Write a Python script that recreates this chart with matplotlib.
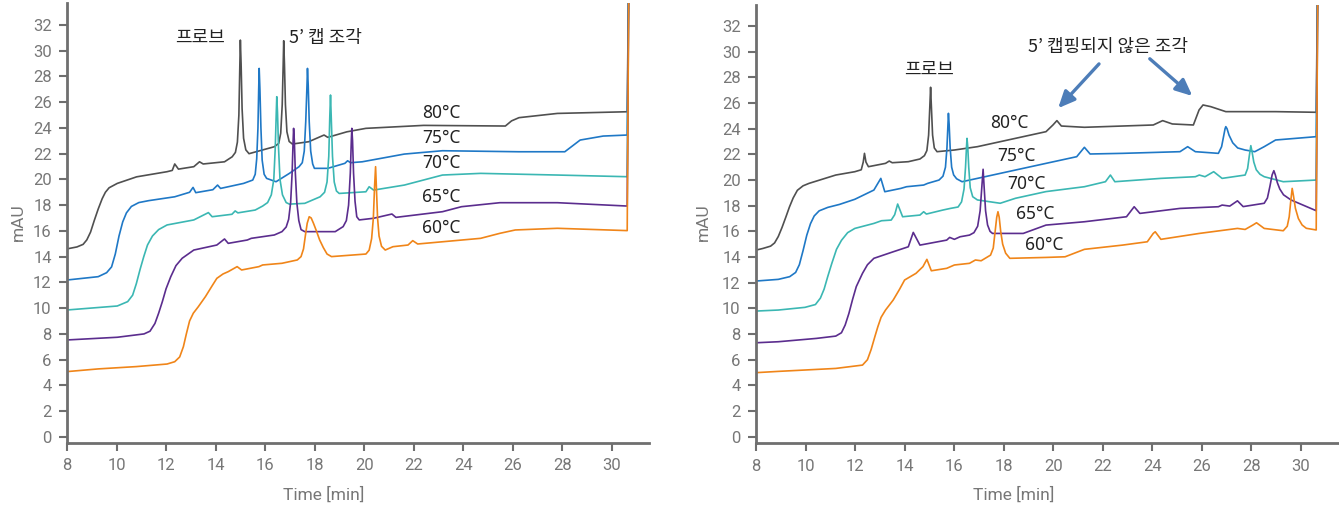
import matplotlib
matplotlib.use("Agg")
import matplotlib.pyplot as plt

plt.rcParams['font.family'] = ['Roboto', 'Noto Sans CJK KR', 'DejaVu Sans']

# ---- left panel: time [min] / mAU knots ----
left_80_t = [8.0, 8.4, 8.65, 8.8, 8.95, 9.1, 9.26, 9.42, 9.55, 9.7, 10.03, 10.81, 12.04, 12.25, 12.35, 12.5,
             13.12, 13.35, 13.5, 14.36, 14.67, 14.8, 14.88, 14.94, 14.98, 15.0, 15.03, 15.07, 15.13, 15.22,
             15.35, 16.37, 16.55, 16.63, 16.69, 16.73, 16.75, 16.78, 16.82, 16.88, 16.97, 17.1, 17.76,
             18.38, 18.53, 19.3, 20.07, 22.4, 25.7, 25.95, 26.25, 27.8, 30.62, 30.7]
left_80_mau = [14.6, 14.75, 14.95, 15.3, 15.9, 16.8, 17.7, 18.5, 19.0, 19.35, 19.69, 20.2, 20.6, 20.7, 21.2,
               20.8, 20.99, 21.37, 21.2, 21.37, 21.76, 22.1, 22.9, 25.0, 29.0, 30.83, 29.0, 25.5, 23.2, 22.3,
               22.0, 22.54, 22.8, 23.6, 25.8, 29.0, 30.78, 29.0, 25.8, 23.7, 22.95, 22.75, 22.93,
               23.45, 23.27, 23.7, 23.97, 24.2, 24.15, 24.55, 24.8, 25.13, 25.26, 40]

left_75_t = [8.0, 9.26, 9.6, 9.8, 9.95, 10.1, 10.25, 10.4, 10.6, 10.9, 11.3, 12.35, 12.95, 13.09, 13.2,
             13.89, 14.08, 14.2, 15.13, 15.5, 15.6, 15.66, 15.71, 15.74, 15.76, 15.79, 15.83, 15.88, 15.96,
             16.06, 16.44, 16.98, 17.37, 17.5, 17.58, 17.64, 17.69, 17.71, 17.74, 17.78, 17.84, 17.92,
             17.99, 18.53, 19.22, 19.33, 19.45, 19.92, 21.62, 23.16, 26.25, 28.1, 28.72, 29.65, 30.62, 30.7]
left_75_mau = [12.18, 12.44, 12.75, 13.2, 14.2, 15.6, 16.7, 17.4, 17.9, 18.2, 18.35, 18.65, 19.0, 19.38,
               18.97, 19.2, 19.56, 19.3, 19.69, 19.95, 20.4, 21.6, 24.0, 27.0, 28.63, 27.0, 24.0, 21.5,
               20.4, 20.08, 19.82, 20.47, 20.99, 21.3, 22.2, 24.5, 27.3, 28.63, 27.3, 24.5, 22.2, 21.2,
               20.86, 20.86, 21.25, 21.45, 21.3, 21.37, 21.97, 22.23, 22.15, 22.15, 23.06, 23.37, 23.45, 40]

left_70_t = [8.0, 10.03, 10.45, 10.65, 10.8, 10.95, 11.1, 11.25, 11.45, 11.7, 12.04, 13.12, 13.71, 13.86,
             14.66, 14.79, 14.9, 15.6, 15.9, 16.1, 16.25, 16.35, 16.41, 16.45, 16.47, 16.5, 16.54, 16.6,
             16.7, 16.85, 16.98, 17.6, 18.22, 18.4, 18.5, 18.57, 18.61, 18.64, 18.67, 18.72, 18.79, 18.88,
             18.99, 20.07, 20.2, 20.38, 21.62, 23.16, 24.7, 27.8, 30.62, 30.7]
left_70_mau = [9.85, 10.16, 10.5, 11.0, 11.9, 13.0, 14.0, 14.9, 15.6, 16.1, 16.46, 16.85, 17.42, 17.1,
               17.29, 17.55, 17.4, 17.62, 17.93, 18.2, 18.8, 20.0, 22.5, 25.2, 26.43, 25.2, 22.5, 20.0,
               18.8, 18.2, 18.08, 18.14, 18.65, 19.0, 19.8, 21.8, 24.8, 26.56, 24.8, 21.8, 19.8, 19.1,
               18.91, 19.04, 19.43, 19.17, 19.56, 20.34, 20.47, 20.34, 20.21, 40]

left_65_t = [8.0, 10.03, 11.11, 11.35, 11.55, 11.7, 11.85, 12.0, 12.19, 12.4, 12.65, 13.12, 14.05, 14.36,
             14.51, 15.28, 15.44, 16.37, 16.68, 16.85, 16.95, 17.03, 17.09, 17.13, 17.15, 17.18, 17.22,
             17.28, 17.36, 17.45, 17.6, 18.83, 19.15, 19.28, 19.37, 19.44, 19.48, 19.5, 19.53, 19.57,
             19.63, 19.7, 19.8, 20.38, 21.12, 21.28, 23.16, 23.93, 25.48, 27.8, 30.62, 30.7]
left_65_mau = [7.52, 7.73, 7.99, 8.2, 8.8, 9.6, 10.5, 11.5, 12.44, 13.3, 13.87, 14.51, 14.9, 15.37,
               15.03, 15.29, 15.42, 15.68, 15.94, 16.3, 16.9, 18.2, 20.5, 23.0, 23.97, 23.0, 20.5,
               18.2, 16.8, 16.1, 15.94, 15.94, 16.33, 16.8, 18.0, 20.5, 23.0, 23.97, 23.0, 20.5,
               18.3, 17.1, 16.85, 16.98, 17.31, 17.05, 17.49, 17.88, 18.19, 18.19, 17.93, 40]

left_60_t = [8.0, 9.26, 10.8, 12.04, 12.35, 12.55, 12.7, 12.82, 12.95, 13.1, 13.3, 13.59, 13.85, 14.05,
             14.3, 14.51, 14.87, 15.05, 15.75, 15.9, 16.68, 17.3, 17.45, 17.55, 17.63, 17.7, 17.78, 17.86,
             17.95, 18.07, 18.2, 18.35, 18.5, 18.68, 20.07, 20.2, 20.3, 20.37, 20.42, 20.46, 20.49, 20.54,
             20.6, 20.7, 20.85, 21.16, 21.77, 21.96, 22.16, 24.7, 25.48, 26.1, 27.8, 30.62, 30.7]
left_60_mau = [5.06, 5.27, 5.45, 5.65, 5.83, 6.2, 7.0, 8.0, 9.0, 9.6, 10.1, 10.89, 11.7, 12.31,
               12.65, 12.83, 13.22, 12.96, 13.22, 13.35, 13.48, 13.74, 14.0, 14.6, 15.7, 16.6, 17.1, 17.0,
               16.6, 16.0, 15.3, 14.7, 14.2, 14.0, 14.2, 14.5, 15.4, 17.0, 19.5, 20.99, 19.5, 17.0,
               15.6, 14.8, 14.51, 14.77, 14.9, 15.24, 14.98, 15.42, 15.81, 16.07, 16.2, 16.02, 40]

# ---- right panel ----
right_80_t = [8.0, 8.28, 8.59, 8.75, 8.9, 9.05, 9.21, 9.35, 9.5, 9.67, 9.9, 10.14, 11.22, 11.99, 12.25,
              12.33, 12.38, 12.44, 12.54, 13.23, 13.38, 13.5, 14.15, 14.62, 14.8, 14.9, 14.97, 15.02, 15.05,
              15.08, 15.13, 15.2, 15.31, 16.01, 16.94, 18.17, 19.71, 19.99, 20.15, 20.33, 21.26, 24.04,
              24.42, 24.81, 25.66, 25.89, 26.05, 26.36, 26.97, 28.98, 30.62, 30.7]
right_80_mau = [14.54, 14.67, 14.85, 15.1, 15.6, 16.3, 17.14, 17.9, 18.6, 19.2, 19.55, 19.74, 20.39, 20.65,
                20.8, 21.4, 22.08, 21.4, 21.04, 21.3, 21.48, 21.35, 21.43, 21.64, 21.9, 22.3, 23.5, 25.8,
                27.23, 25.8, 23.5, 22.5, 22.21, 22.34, 22.6, 23.12, 23.77, 24.29, 24.63, 24.21, 24.11, 24.29,
                24.63, 24.37, 24.29, 25.46, 25.85, 25.72, 25.33, 25.33, 25.28, 40]

right_75_t = [8.0, 8.9, 9.36, 9.6, 9.75, 9.9, 10.05, 10.2, 10.35, 10.55, 10.9, 11.37, 11.99, 12.76, 13.04,
              13.2, 13.85, 14.08, 14.77, 14.93, 15.39, 15.55, 15.65, 15.71, 15.75, 15.77, 15.8, 15.84, 15.9,
              15.98, 16.1, 16.32, 16.94, 18.17, 19.71, 20.95, 21.26, 21.49, 22.8, 25.12, 25.43, 25.74,
              26.67, 26.8, 26.88, 26.94, 26.97, 27.02, 27.1, 27.25, 27.45, 27.75, 28.14, 28.52, 28.98,
              30.62, 30.7]
right_75_mau = [12.13, 12.26, 12.47, 12.8, 13.4, 14.5, 15.7, 16.6, 17.2, 17.6, 17.87, 18.1, 18.5, 19.22,
                20.13, 19.09, 19.35, 19.48, 19.61, 19.74, 20.0, 20.3, 21.0, 22.5, 24.3, 25.2, 24.3, 22.5,
                21.0, 20.4, 20.1, 19.87, 20.13, 20.65, 21.3, 21.82, 22.55, 22.03, 22.08, 22.21, 22.6, 22.21,
                22.08, 22.6, 23.4, 24.0, 24.16, 24.0, 23.5, 22.9, 22.5, 22.34, 22.21, 22.6, 23.12,
                23.38, 40]

right_70_t = [8.0, 8.9, 9.98, 10.4, 10.6, 10.75, 10.9, 11.06, 11.25, 11.45, 11.7, 11.99, 12.76, 13.07,
              13.46, 13.6, 13.72, 13.92, 14.62, 14.77, 14.88, 15.54, 15.85, 16.16, 16.3, 16.4, 16.46, 16.5,
              16.52, 16.55, 16.59, 16.65, 16.75, 16.94, 17.86, 18.48, 19.71, 21.26, 22.11, 22.31, 22.49,
              24.35, 25.74, 25.9, 26.13, 26.48, 26.82, 27.75, 27.85, 27.92, 27.98, 28.03, 28.1, 28.2,
              28.35, 28.52, 29.29, 30.62, 30.7]
right_70_mau = [9.79, 9.87, 10.08, 10.3, 10.8, 11.5, 12.5, 13.5, 14.6, 15.3, 15.9, 16.23, 16.62, 16.83,
                16.88, 17.3, 18.13, 17.14, 17.27, 17.53, 17.35, 17.66, 17.79, 17.9, 18.3, 19.3, 21.0, 22.6,
                23.25, 22.6, 21.0, 19.4, 18.7, 18.45, 18.19, 18.58, 19.1, 19.48, 19.87, 20.39, 19.87,
                20.13, 20.26, 20.39, 20.26, 20.65, 20.13, 20.39, 20.9, 21.9, 22.68, 22.2, 21.4, 20.8,
                20.45, 20.26, 19.87, 20.0, 40]

right_65_t = [8.0, 8.9, 10.44, 11.22, 11.45, 11.6, 11.75, 11.9, 12.05, 12.3, 12.5, 12.76, 13.54, 14.15,
              14.35, 14.62, 15.7, 15.82, 16.01, 16.24, 16.62, 16.8, 16.95, 17.05, 17.12, 17.17, 17.21,
              17.27, 17.35, 17.45, 17.55, 18.79, 19.71, 21.26, 22.96, 23.27, 23.5, 25.12, 26.67, 26.82,
              27.13, 27.44, 27.67, 28.52, 28.65, 28.75, 28.84, 28.91, 28.97, 29.05, 29.15, 29.3, 29.6,
              30.62, 30.7]
right_65_mau = [7.32, 7.4, 7.66, 7.84, 8.1, 8.7, 9.6, 10.7, 11.7, 12.73, 13.4, 13.9, 14.41, 14.8,
                15.92, 14.93, 15.32, 15.53, 15.38, 15.58, 15.71, 15.9, 16.4, 17.6, 19.5, 20.84, 19.5,
                17.6, 16.5, 16.0, 15.84, 15.84, 16.49, 16.75, 17.14, 17.92, 17.4, 17.79, 17.92, 18.05,
                17.97, 18.38, 17.93, 18.19, 18.6, 19.5, 20.4, 20.73, 20.4, 19.8, 19.3, 18.85, 18.45,
                17.61, 40]

right_60_t = [8.0, 8.9, 11.22, 12.3, 12.5, 12.65, 12.8, 12.92, 13.05, 13.23, 13.54, 13.8, 14.0, 14.46,
              14.74, 14.9, 15.08, 15.7, 16.01, 16.62, 16.86, 17.09, 17.47, 17.58, 17.65, 17.72, 17.77,
              17.82, 17.88, 17.96, 18.08, 18.25, 19.71, 20.48, 21.26, 22.8, 23.8, 24.04, 24.12, 24.35,
              25.9, 27.44, 27.75, 28.06, 28.21, 28.52, 29.29, 29.45, 29.53, 29.6, 29.65, 29.7, 29.78,
              29.9, 30.05, 30.22, 30.62, 30.7]
right_60_mau = [4.99, 5.09, 5.32, 5.58, 6.0, 6.8, 7.8, 8.57, 9.3, 9.87, 10.65, 11.5, 12.21, 12.73,
                13.25, 13.82, 12.93, 13.12, 13.38, 13.51, 13.77, 13.71, 14.15, 14.7, 15.9, 17.1, 17.53,
                17.1, 16.0, 15.0, 14.3, 13.9, 13.97, 14.02, 14.6, 14.93, 15.19, 15.84, 15.97, 15.38,
                15.84, 16.23, 16.15, 16.49, 16.67, 16.23, 16.05, 16.4, 17.14, 18.5, 19.35, 18.8, 17.8,
                17.0, 16.5, 16.24, 16.11, 40]

temps = ['80°C', '75°C', '70°C', '65°C', '60°C']
colors = ['#505050', '#1f78c6', '#3bb7b3', '#5b2d8e', '#f08519']

left_series = [(left_80_t, left_80_mau), (left_75_t, left_75_mau), (left_70_t, left_70_mau),
               (left_65_t, left_65_mau), (left_60_t, left_60_mau)]
right_series = [(right_80_t, right_80_mau), (right_75_t, right_75_mau), (right_70_t, right_70_mau),
                (right_65_t, right_65_mau), (right_60_t, right_60_mau)]

# label positions (time, mAU)
left_label_pos = [(23.12, 25.13), (23.12, 23.19), (23.12, 21.25), (23.12, 18.65), (23.12, 16.2)]
right_label_pos = [(18.21, 24.48), (18.52, 21.89), (18.92, 19.69), (19.26, 17.35), (19.62, 14.9)]

axis_gray = '#6f6f6f'
tick_gray = '#777777'

fig = plt.figure(figsize=(13.39, 5.08), dpi=100)
ax1 = fig.add_axes([67 / 1339, 1 - 442.7 / 508, 582 / 1339, 439.4 / 508])
ax2 = fig.add_axes([756 / 1339, 1 - 443.3 / 508, 582 / 1339, 438.3 / 508])


def style_axis(ax, ylim):
    ax.set_xlim(8, 31.5)
    ax.set_ylim(*ylim)
    ax.set_xticks(range(8, 31, 2))
    ax.set_yticks(range(0, 33, 2))
    for s in ['top', 'right']:
        ax.spines[s].set_visible(False)
    for s in ['left', 'bottom']:
        ax.spines[s].set_color(axis_gray)
        ax.spines[s].set_linewidth(2)
    ax.tick_params(direction='out', length=6, width=1.5, color=axis_gray,
                   labelcolor=tick_gray, labelsize=12, pad=5)
    for lab in ax.get_xticklabels() + ax.get_yticklabels():
        lab.set_family('Roboto')


for ax, series, lpos in [(ax1, left_series, left_label_pos), (ax2, right_series, right_label_pos)]:
    for (t, v), c in zip(series, colors):
        ax.plot(t, v, color=c, lw=1.2, solid_joinstyle='round')
    for (x, y), txt in zip(lpos, temps):
        ax.text(x, y, txt, ha='center', va='center', fontsize=12.5, color='#222222',
                family=['Noto Sans', 'DejaVu Sans'])

style_axis(ax1, (-0.466, 33.69))
style_axis(ax2, (-0.514, 33.64))

kfont = ['Noto Sans CJK KR', 'DejaVu Sans']
ax1.text(13.37, 31.0, '프로브', ha='center', va='center', fontsize=13, color='#222222', family=kfont)
ax1.text(18.42, 31.0, '5’ 캡 조각', ha='center', va='center', fontsize=13, color='#222222', family=kfont)
ax2.text(14.99, 28.57, '프로브', ha='center', va='center', fontsize=13, color='#222222', family=kfont)
ax2.text(22.22, 30.39, '5’ 캡핑되지 않은 조각', ha='center', va='center', fontsize=13, color='#222222',
         family=kfont)

arrow_col = '#4d7db8'
arrow_style = '-|>,head_length=1.0,head_width=0.45'
ax2.annotate('', xy=(20.2, 25.6), xytext=(21.85, 29.05),
             arrowprops=dict(arrowstyle=arrow_style, color=arrow_col, lw=2.4, shrinkA=0, shrinkB=0))
ax2.annotate('', xy=(25.62, 26.55), xytext=(23.9, 29.45),
             arrowprops=dict(arrowstyle=arrow_style, color=arrow_col, lw=2.4, shrinkA=0, shrinkB=0))

for x in [18, 703]:
    fig.text(x / 1339, 1 - 222 / 508, 'mAU', rotation=90, ha='center', va='center',
             fontsize=12.5, color=tick_gray)
for x in [324, 1014]:
    fig.text(x / 1339, 1 - 495 / 508, 'Time [min]', ha='center', va='center',
             fontsize=12.5, color=tick_gray)

fig.savefig('out.png', dpi=100)
